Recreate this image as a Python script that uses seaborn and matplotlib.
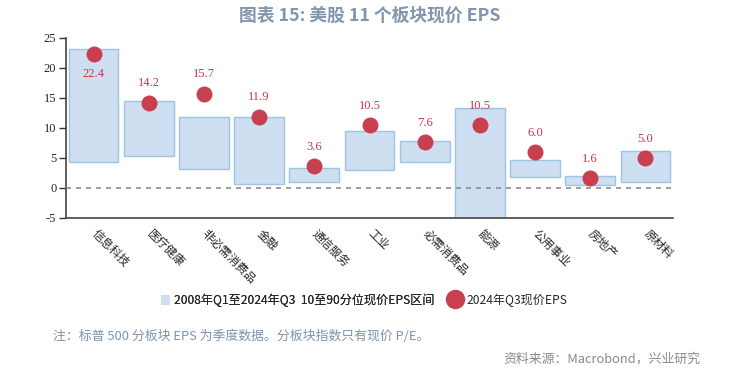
import numpy as np
import pandas as pd
import matplotlib
matplotlib.use("Agg")
import matplotlib.pyplot as plt
from matplotlib.patches import Patch
from matplotlib.lines import Line2D
import seaborn as sns

# ---- data ----
categories = ["信息科技", "医疗健康", "非必需消费品", "金融", "通信服务", "工业",
              "必需消费品", "能源", "公用事业", "房地产", "原材料"]
range_low = [4.3, 5.4, 3.1, 0.6, 1.05, 3.0, 4.3, -6.0, 1.9, 0.45, 1.05]
range_high = [23.1, 14.5, 11.8, 11.9, 3.3, 9.45, 7.8, 13.3, 4.6, 2.0, 6.1]
current_eps = [22.4, 14.2, 15.7, 11.9, 3.6, 10.5, 7.6, 10.5, 6.0, 1.6, 5.0]
yticks = [-5, 0, 5, 10, 15, 20, 25]

title = "图表 15: 美股 11 个板块现价 EPS"
legend_range = "2008年Q1至2024年Q3  10至90分位现价EPS区间"
legend_point = "2024年Q3现价EPS"
note = "注：标普 500 分板块 EPS 为季度数据。分板块指数只有现价 P/E。"
source = "资料来源：Macrobond，兴业研究"

df = pd.DataFrame({
    "cat": categories,
    "low": range_low,
    "high": range_high,
    "eps": current_eps,
})
df["span"] = df["high"] - df["low"]

sns.set_style("white")
plt.rcParams["font.family"] = ["Noto Sans CJK SC", "DejaVu Sans"]

BAR_FACE = "#cddff0"
BAR_EDGE = "#9ec3e4"
DOT = "#c8404f"
LABEL = "#c0394b"
TITLE_C = "#8195ad"

fig = plt.figure(figsize=(7.51, 3.71), dpi=100)
ax = fig.add_axes([66 / 751, 1 - 218 / 371, 607 / 751, 180 / 371])

sns.barplot(data=df, x="cat", y="span", bottom=df["low"].values, order=categories,
            color=BAR_FACE, edgecolor=BAR_EDGE, linewidth=1.0, width=0.9,
            saturation=1, ax=ax, zorder=2)
sns.stripplot(data=df, x="cat", y="eps", order=categories, jitter=False,
              color=DOT, size=11.5, linewidth=0, ax=ax, zorder=4)

ax.axhline(0, color="#8c8c8c", linestyle=(0, (3, 3)), linewidth=1.2, zorder=3)

for i, v in enumerate(current_eps):
    off = -15 if i == 0 else 14
    ax.annotate(f"{v:.1f}", (i, v), xytext=(0, off), textcoords="offset points",
                ha="center", va="center", color=LABEL, fontsize=9,
                family="Liberation Serif", zorder=5)

ax.set_ylim(-5, 25)
ax.set_xlim(-0.5, len(categories) - 0.5)
ax.set_yticks(yticks)
ax.set_yticklabels([str(t) for t in yticks], family="Liberation Serif", fontsize=9)
ax.set_xticks(range(len(categories)))
ax.set_xticklabels(categories, rotation=-45, ha="left", va="center",
                   rotation_mode="anchor", fontsize=8.5)
ax.tick_params(axis="x", which="major", length=0, pad=10)
ax.set_xticks(np.arange(-0.5, len(categories) + 0.5, 1), minor=True)
ax.tick_params(axis="x", which="minor", length=5, width=1.0, color="#333333",
               direction="out")
ax.tick_params(axis="y", length=5, width=1.0, color="#333333", direction="out",
               pad=2, left=True)
ax.set_xlabel("")
ax.set_ylabel("")
for s in ["top", "right"]:
    ax.spines[s].set_visible(False)
for s in ["left", "bottom"]:
    ax.spines[s].set_color("#444444")
    ax.spines[s].set_linewidth(1.2)

leg1 = fig.legend([Patch(facecolor=BAR_FACE, edgecolor="none")], [legend_range],
                  loc="center left", bbox_to_anchor=(150 / 751, 1 - 300 / 371),
                  frameon=False, fontsize=8.7, handlelength=0.75, handleheight=0.9,
                  handletextpad=0.35)
leg2 = fig.legend([Line2D([], [], marker="o", linestyle="none", markersize=14,
                          markerfacecolor=DOT, markeredgewidth=0)], [legend_point],
                  loc="center left", bbox_to_anchor=(436 / 751, 1 - 300 / 371),
                  frameon=False, fontsize=8.7, handlelength=1.3, handletextpad=0.35)
fig.add_artist(leg1)

fig.text(370 / 751, 1 - 16 / 371, title, ha="center", va="center", color=TITLE_C,
         fontsize=12.8, fontweight="bold")
fig.text(53 / 751, 1 - 336 / 371, note, ha="left", va="center", color="#7f93ab",
         fontsize=9.3)
fig.text(700 / 751, 1 - 359 / 371, source, ha="right", va="center", color="#8a8a8a",
         fontsize=9.3)

fig.savefig("out.png", dpi=100)
